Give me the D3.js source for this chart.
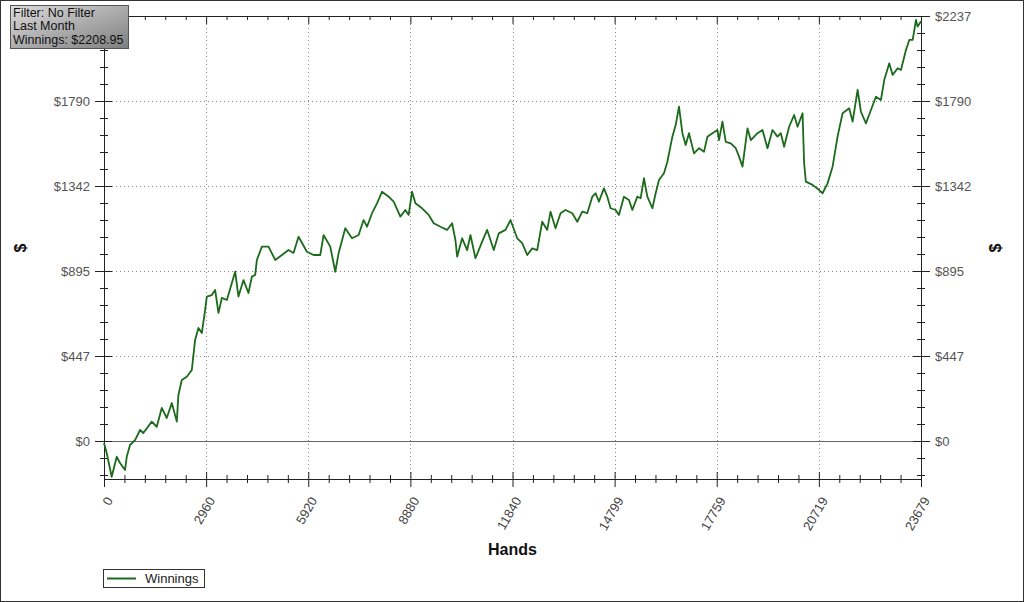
<!DOCTYPE html>
<html lang="en">
<head>
  <meta charset="UTF-8">
  <title>Winnings</title>
  <script src="https://d3js.org/d3.v7.min.js"></script>
  <style>
    body { margin: 0; background: #fff; }
    svg { display: block; font-family: "Liberation Sans", Arial, sans-serif; }
    .tick text { font-family: "Liberation Sans", Arial, sans-serif; }
  </style>
</head>
<body>
  <div id="chart"></div>
  <script>

    // hand number / cumulative winnings ($)
    const hands = [0, 78, 223, 369, 464, 609, 659, 754, 900, 1045, 1140, 1384, 1529, 1674, 1819, 1965, 2110, 2156,
      2255, 2400, 2545, 2641, 2736, 2835, 2931, 2980, 3125, 3221, 3317, 3415, 3561, 3801, 3897, 4042, 4187, 4286,
      4382, 4431, 4576, 4768, 4962, 5157, 5348, 5493, 5638, 5882, 6074, 6268, 6364, 6558, 6703, 6799, 6993, 7188,
      7379, 7524, 7623, 7768, 7913, 8058, 8250, 8395, 8589, 8734, 8830, 8929, 9025, 9219, 9411, 9556, 9750, 9944,
      10089, 10185, 10235, 10380, 10525, 10621, 10766, 10960, 11105, 11297, 11442, 11636, 11781, 11976, 12121,
      12266, 12411, 12556, 12701, 12846, 12942, 13087, 13232, 13377, 13572, 13717, 13862, 14007, 14152, 14248,
      14344, 14489, 14587, 14683, 14828, 14924, 15069, 15214, 15313, 15458, 15554, 15650, 15748, 15893, 15989,
      16085, 16230, 16328, 16473, 16569, 16665, 16764, 16859, 16955, 17100, 17246, 17391, 17489, 17634, 17779,
      17826, 17924, 18020, 18165, 18310, 18406, 18505, 18650, 18746, 18940, 19085, 19230, 19375, 19520, 19616,
      19712, 19857, 20002, 20101, 20246, 20292, 20342, 20536, 20728, 20826, 20971, 21116, 21261, 21406, 21598,
      21697, 21842, 21938, 22083, 22228, 22373, 22518, 22614, 22759, 22858, 23003, 23098, 23243, 23339, 23438,
      23534, 23583, 23679];

    const winnings = [-11, -63, -188, -83, -116, -153, -83, -21, 5, 58, 42, 102, 75, 174, 121, 200, 102, 242,
      321, 338, 374, 532, 595, 568, 690, 760, 768, 795, 674, 753, 742, 891, 760, 847, 779, 865,
      874, 953, 1023, 1023, 953, 979, 1005, 990, 1075, 996, 979, 979, 1084, 1023, 891, 988, 1120, 1067,
      1084, 1163, 1128, 1199, 1251, 1312, 1286, 1260, 1181, 1216, 1190, 1312, 1251, 1225, 1190, 1146, 1128, 1111,
      1146, 1058, 970, 1067, 1005, 1084, 962, 1049, 1111, 1005, 1093, 1111, 1163, 1067, 1041,
      979, 1014, 1005, 1154, 1111, 1207, 1120, 1199, 1216, 1199, 1154, 1207, 1199, 1286, 1304,
      1260, 1330, 1286, 1225, 1216, 1190, 1286, 1269, 1216, 1286, 1278, 1383, 1286, 1225, 1304,
      1374, 1409, 1470, 1602, 1663, 1760, 1620, 1558, 1620, 1514, 1541, 1523, 1602, 1620, 1637,
      1584, 1681, 1575, 1567, 1541, 1497, 1444, 1646, 1584, 1620, 1637, 1541, 1637, 1602, 1620,
      1549, 1654, 1716, 1654, 1725, 1462, 1365, 1348, 1321, 1304, 1356, 1444, 1602, 1725, 1751,
      1681, 1848, 1733, 1672, 1742, 1812, 1795, 1900, 1988, 1927, 1962, 1953, 2058, 2111, 2111,
      2216, 2181, 2209];

    const xTicks = [0, 2960, 5920, 8880, 11840, 14799, 17759, 20719, 23679];
    const yTicks = [0, 447.4, 894.8, 1342.2, 1789.6, 2237];
    const yLabels = ['$0', '$447', '$895', '$1342', '$1790', '$2237'];
    const yMin = -200;

    const infoLines = ['Filter: No Filter', 'Last Month', 'Winnings: $2208.95'];
    const seriesName = 'Winnings';

    const W = 1024, H = 602;
    const plot = { left: 104, right: 921, top: 16, bottom: 479 };
    const lineColor = '#1c6a1c';

    const svg = d3.select('#chart').append('svg')
      .attr('width', W)
      .attr('height', H);

    const x = d3.scaleLinear()
      .domain([0, d3.max(xTicks)])
      .range([plot.left, plot.right]);

    const y = d3.scaleLinear()
      .domain([yMin, d3.max(yTicks)])
      .range([plot.bottom, plot.top]);

    // minor ticks: five steps per major interval
    const subdivide = ticks => {
      const out = [];
      for (let i = 0; i < ticks.length - 1; i++) {
        for (let k = 1; k < 5; k++) out.push(ticks[i] + (ticks[i + 1] - ticks[i]) * k / 5);
      }
      return out;
    };
    const xMinor = subdivide(xTicks);
    const yStep = (yTicks[1] - yTicks[0]) / 5;
    const yMinor = subdivide(yTicks).concat([-yStep, -2 * yStep]);

    // outer border
    svg.append('rect')
      .attr('x', 0.5).attr('y', 0.5)
      .attr('width', W - 1).attr('height', H - 1)
      .attr('fill', '#fff')
      .attr('stroke', '#333');

    // dotted grid
    svg.append('g').selectAll('line')
      .data(xTicks.slice(1, -1))
      .enter().append('line')
      .attr('x1', d => Math.round(x(d)) + 0.5).attr('x2', d => Math.round(x(d)) + 0.5)
      .attr('y1', plot.top).attr('y2', plot.bottom)
      .attr('stroke', '#888')
      .attr('stroke-dasharray', '1,3');

    svg.append('g').selectAll('line')
      .data(yTicks.slice(1, -1))
      .enter().append('line')
      .attr('x1', plot.left).attr('x2', plot.right)
      .attr('y1', d => Math.round(y(d)) + 0.5).attr('y2', d => Math.round(y(d)) + 0.5)
      .attr('stroke', '#888')
      .attr('stroke-dasharray', '1,3');

    // zero line
    svg.append('line')
      .attr('x1', plot.left - 9).attr('x2', plot.right + 9)
      .attr('y1', Math.round(y(0)) + 0.5).attr('y2', Math.round(y(0)) + 0.5)
      .attr('stroke', '#666');

    // axes
    const styleAxis = (g, color) => {
      g.select('.domain').remove();
      g.selectAll('.tick line').attr('stroke', '#222');
      g.selectAll('.tick text').attr('fill', color).style('font-size', '13px');
    };

    const fmtY = d => yLabels[yTicks.indexOf(d)];
    // the top-left label sits under the info box, so it is left out there
    const fmtYLeft = d => (d === d3.max(yTicks) ? '' : fmtY(d));

    svg.append('g')
      .attr('transform', `translate(${plot.left},0)`)
      .call(d3.axisLeft(y).tickValues(yMinor).tickSize(4).tickFormat(''))
      .call(g => { styleAxis(g, '#555'); g.selectAll('.tick line').attr('x1', 4); });

    svg.append('g')
      .attr('transform', `translate(${plot.left},0)`)
      .call(d3.axisLeft(y).tickValues(yTicks).tickSize(9).tickPadding(5).tickFormat(fmtYLeft))
      .call(g => { styleAxis(g, '#555'); g.selectAll('.tick line').attr('x1', 8); });

    svg.append('g')
      .attr('transform', `translate(${plot.right},0)`)
      .call(d3.axisRight(y).tickValues(yMinor).tickSize(4).tickFormat(''))
      .call(g => { styleAxis(g, '#555'); g.selectAll('.tick line').attr('x1', -4); });

    svg.append('g')
      .attr('transform', `translate(${plot.right},0)`)
      .call(d3.axisRight(y).tickValues(yTicks).tickSize(9).tickPadding(5).tickFormat(fmtY))
      .call(g => { styleAxis(g, '#555'); g.selectAll('.tick line').attr('x1', -8); });

    svg.append('g')
      .attr('transform', `translate(0,${plot.bottom})`)
      .call(d3.axisBottom(x).tickValues(xMinor).tickSize(4).tickFormat(''))
      .call(g => { styleAxis(g, '#444'); g.selectAll('.tick line').attr('y1', -4); });

    svg.append('g')
      .attr('transform', `translate(0,${plot.bottom})`)
      .call(d3.axisBottom(x).tickValues(xTicks).tickSize(8).tickFormat(d3.format('d')))
      .call(g => {
        styleAxis(g, '#444');
        g.selectAll('.tick line').attr('y1', -7);
        g.selectAll('.tick text')
          .attr('text-anchor', 'end')
          .attr('x', 0).attr('y', 0).attr('dy', '0.35em')
          .attr('transform', 'translate(5,19) rotate(-60)');
      });

    svg.append('g')
      .attr('transform', `translate(0,${plot.top})`)
      .call(d3.axisBottom(x).tickValues(xMinor).tickSize(4).tickFormat(''))
      .call(g => styleAxis(g, '#444'));

    svg.append('g')
      .attr('transform', `translate(0,${plot.top})`)
      .call(d3.axisBottom(x).tickValues(xTicks).tickSize(8).tickFormat(''))
      .call(g => styleAxis(g, '#444'));

    // frame
    svg.append('rect')
      .attr('x', plot.left + 0.5).attr('y', plot.top + 0.5)
      .attr('width', plot.right - plot.left).attr('height', plot.bottom - plot.top)
      .attr('fill', 'none')
      .attr('stroke', '#222');

    // series
    const points = hands.map((h, i) => [h, winnings[i]]);
    const line = d3.line().x(d => x(d[0])).y(d => y(d[1]));

    svg.append('path')
      .datum(points)
      .attr('d', line)
      .attr('fill', 'none')
      .attr('stroke', lineColor)
      .attr('stroke-width', 1.8)
      .attr('stroke-linejoin', 'round');

    // axis titles
    svg.append('text')
      .attr('x', (plot.left + plot.right) / 2).attr('y', 555)
      .attr('text-anchor', 'middle')
      .style('font-size', '16px').style('font-weight', 'bold')
      .attr('fill', '#111')
      .text('Hands');

    [26, 1001].forEach(tx => {
      svg.append('text')
        .attr('transform', `translate(${tx},248) rotate(-90)`)
        .attr('text-anchor', 'middle')
        .style('font-size', '16px').style('font-weight', 'bold')
        .attr('fill', '#111')
        .text('$');
    });

    // legend
    const legend = svg.append('g').attr('transform', 'translate(103,569)');
    legend.append('rect')
      .attr('x', 0.5).attr('y', 0.5)
      .attr('width', 101).attr('height', 18)
      .attr('fill', '#fff')
      .attr('stroke', '#333');
    legend.append('line')
      .attr('x1', 4).attr('x2', 33)
      .attr('y1', 9.5).attr('y2', 9.5)
      .attr('stroke', lineColor)
      .attr('stroke-width', 2);
    legend.append('text')
      .attr('x', 42).attr('y', 14)
      .style('font-size', '13px')
      .attr('fill', '#222')
      .text(seriesName);

    // info box
    const grad = svg.append('defs').append('linearGradient')
      .attr('id', 'infoGrad')
      .attr('x1', '0%').attr('y1', '0%').attr('x2', '100%').attr('y2', '100%');
    grad.append('stop').attr('offset', '0%').attr('stop-color', '#dcdcdc');
    grad.append('stop').attr('offset', '100%').attr('stop-color', '#7e7e7e');

    const info = svg.append('g').attr('transform', 'translate(10,5)');
    info.append('rect')
      .attr('x', 0.5).attr('y', 0.5)
      .attr('width', 118).attr('height', 43)
      .attr('fill', 'url(#infoGrad)')
      .attr('stroke', '#555');
    info.selectAll('text')
      .data(infoLines)
      .enter().append('text')
      .attr('x', 3)
      .attr('y', (d, i) => 12 + i * 13.3)
      .style('font-size', '12.5px')
      .attr('fill', '#111')
      .text(d => d);

  </script>
</body>
</html>
